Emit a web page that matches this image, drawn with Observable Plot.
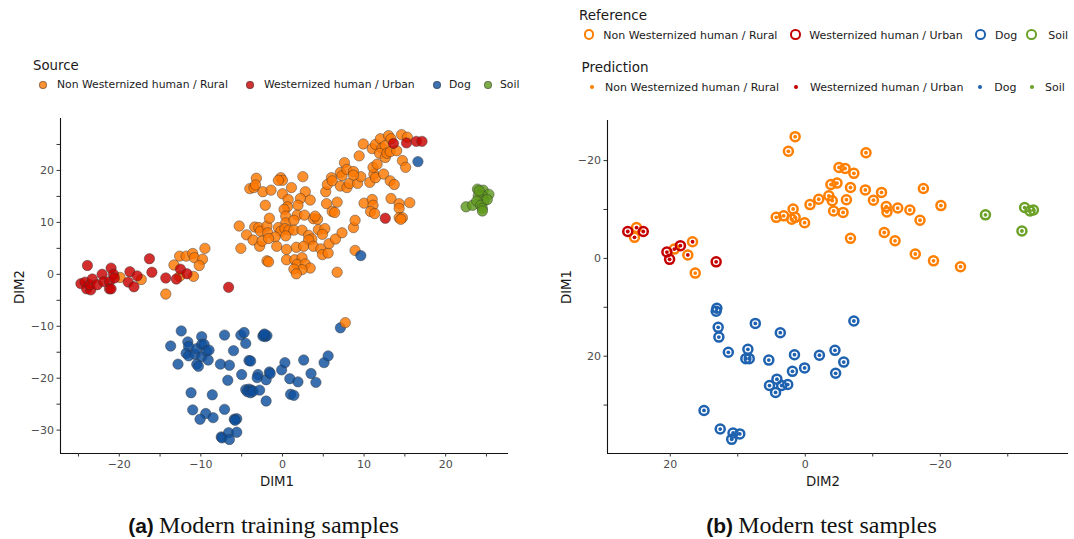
<!DOCTYPE html>
<html><head><meta charset="utf-8">
<script src="https://cdn.jsdelivr.net/npm/d3@7"></script>
<script src="https://cdn.jsdelivr.net/npm/@observablehq/plot@0.6"></script>
<style>
body{margin:0;background:#fff;font-family:"DejaVu Sans",sans-serif;}
#root{position:relative;width:1074px;height:539px;overflow:hidden;background:#fff;}
.abs{position:absolute;white-space:nowrap;line-height:1;}
.sym{position:absolute;border-radius:50%;box-sizing:border-box;}
</style></head><body><div id="root"></div>
<script>
// ---------- categories ----------
const categories = ["Non Westernized human / Rural", "Westernized human / Urban", "Dog", "Soil"];
const trainColors = ["#ff7800", "#c80000", "#0e4f9e", "#5f9a1c"];
const testColors = ["#ff7f00", "#c40000", "#1f62b0", "#6ba126"];

// ---------- (a) training samples : [DIM1, DIM2] ----------
const trainRural = [
[-19.9,-0.6],[-17.3,-1.0],[-14.3,-3.8],[-13.3,1.8],[-12.6,3.5],[-11.8,3.5],[-11.0,4.0],[-10.8,3.2],[-9.8,2.9],[-9.5,5.0],[-10.2,1.7],[-10.9,-0.4],[-12.6,-0.4],
[-5.3,9.3],[-5.1,5.0],[-4.4,7.6],[-4.0,16.5],[-3.6,6.6],[-3.4,9.1],[-3.5,16.7],[-3.2,18.5],[-3.3,17.2],[-2.9,9.0],[-2.7,8.3],[-2.8,5.4],[-2.5,6.4],[-2.4,15.9],[-2.1,13.3],[-1.9,9.3],[-1.6,10.8],[-1.8,8.0],[-1.4,16.2],[-1.9,2.6],[-1.7,2.4],
[-0.2,18.6],[0,18.1],[-0.5,18.1],[2.5,18.8],[1.1,16.7],[2.8,15.9],[0,15.5],[2.2,14.6],[0.7,14.4],[3.4,14.3],[0.6,13.0],[0.2,12.5],[1.9,13.3],[1.8,11.4],[2.7,11.4],[3.8,10.7],[4.3,10.6],[4.0,11.2],[0.4,11.2],[0.4,9.9],[1.4,10.4],[-0.5,9.0],[-0.2,8.3],[0.3,8.8],[0.8,8.5],[1.4,8.5],[2.4,8.5],[0.4,7.4],[-0.9,7.2],[-1.7,6.9],[3.2,7.5],[3.6,6.8],[4.4,8.6],[5.2,8.8],[4.9,7.7],[3.2,6.6],[-0.7,5.4],[0.5,4.8],[1.7,5.2],[2.6,5.4],[3.8,5.4],[4.7,4.9],[4.9,3.8],[5.6,4.1],[5.7,5.9],[6.5,6.8],[7.3,8.0],[8.7,9.0],[8.9,10.4],[0.5,2.8],[1.5,2.8],[2.4,3.2],[1.8,1.9],[2.8,2.0],[3.4,1.2],[2.4,0.9],[1.4,1.0],[1.7,0.1],[6.7,0.4],[8.9,4.6],
[5.3,15.9],[5.5,17.3],[6.0,18.6],[6.1,18.0],[7.1,19.6],[7.3,19.0],[7.1,17.0],[7.9,16.7],[8.2,17.5],[7.6,21.5],[7.9,20.2],[8.7,19.8],[9.2,17.5],[9.6,18.8],[9.4,22.8],[9.9,25.1],[10.7,17.7],[11.2,19.3],[11.4,18.6],[11.1,20.6],[11.6,21.2],[12.4,19.3],[13.2,18.0],[13.7,17.3],[11.0,24.2],[11.4,25.0],[12.0,26.1],[12.2,24.3],[12.6,24.8],[13.0,26.7],[13.3,26.1],[11.9,23.3],[12.6,22.5],[12.8,23.3],[13.2,23.6],[14.0,23.8],[14.6,26.9],[15.3,26.4],[14.7,21.9],[15.1,20.6],[10.0,13.7],[11.0,14.4],[11.1,13.3],[10.8,12.1],[11.3,11.7],[13.3,14.6],[14.3,13.6],[14.3,12.7],[15.6,13.8],[14.3,10.9],[14.7,10.9],[14.5,10.6],[6.7,13.9],[5.4,13.6],[6.1,12.1],[6.4,11.9],[8.7,19.1]
];
const trainUrban = [
[-23.9,1.7],[-24.7,-1.8],[-24.2,-1.5],[-24.0,-2.8],[-23.5,-3.0],[-23.6,-2.0],[-23.3,-0.9],[-22.7,-2.0],[-22.1,0],[-21.9,-1.4],[-21.2,-1.4],[-21.0,1.2],[-20.7,0],[-20.6,-0.7],[-21.2,-2.8],[-21.0,-2.8],[-18.7,0.5],[-18.9,-1.5],[-18.2,-2.4],[-17.8,-0.3],[-16.0,0.4],[-16.3,3.0],[-14.3,-0.7],[-13.0,-0.9],[-12.5,1.0],[-11.7,0.1],[-6.6,-2.5],[13.6,25.2],[15.2,25.3],[16.4,25.6],[17.1,25.6],[12.6,10.8]
];
const trainDog = [
[-12.4,-10.9],[-13.7,-13.8],[-12.8,-17.3],[-11.6,-13.0],[-11.5,-13.9],[-11.8,-15.2],[-11.5,-15.7],[-10.7,-15.4],[-10.5,-14.3],[-9.9,-12.0],[-9.9,-13.5],[-9.6,-13.5],[-9.9,-15.9],[-10.5,-17.3],[-10.3,-17.7],[-9.3,-14.8],[-9.0,-14.6],[-9.1,-16.5],[-11.2,-22.8],[-8.6,-23.2],[-11.0,-26.1],[-9.4,-26.8],[-10.1,-27.9],[-8.5,-27.6],[-7.1,-11.7],[-7.6,-17.3],[-6.5,-17.5],[-6.7,-20.4],[-6.0,-14.7],[-7.1,-26.0],[-5.9,-27.9],[-5.6,-27.8],[-5.8,-28.1],[-7.5,-31.3],[-7.4,-31.5],[-6.6,-30.5],[-6.5,-31.8],[-5.6,-30.4],[-5.1,-11.7],[-4.7,-11.2],[-4.5,-13.3],[-5.0,-19.3],[-4.1,-16.6],[-3.9,-16.7],[-4.5,-22.2],[-4.1,-22.1],[-3.8,-22.3],[-4.3,-22.6],[-3.9,-22.8],[-3.6,-22.5],[-2.8,-22.3],[-3.0,-19.3],[-3.1,-19.9],[-2.3,-11.7],[-2.1,-12.0],[-1.9,-11.8],[-2.4,-11.9],[-2.2,-11.5],[-2.0,-20.3],[-2.0,-24.4],[-1.6,-18.8],[-1.5,-19.1],[-0.1,-18.4],[0.3,-17.0],[0.9,-20.1],[1.9,-20.7],[1.0,-23.1],[1.4,-23.3],[2.6,-16.5],[3.5,-19.1],[4.1,-20.8],[5.1,-17.0],[5.6,-15.7],[7.1,-10.3],[9.6,3.6],[16.6,21.7]
];
const trainRuralLate = [[7.7,-9.3]];
const trainSoil = [
[22.5,13.0],[23.3,13.3],[23.9,16.4],[24.6,16.2],[25.3,15.4],[24.5,15.1],[24.0,15.1],[24.7,14.1],[23.8,14.1],[24.3,13.3],[24.5,12.7],[24.5,12.2],[25.1,14.4],[24.1,16.1]
];

// ---------- (b) test samples : [DIM2, DIM1, predicted category index] ----------
const testRural = [
[25.0,-6.3,1],[25.3,-4.3,1],[19.4,-1.9,1],[16.7,-3.4,1],[17.4,-0.7,1],[16.3,3.0,0],
[1.5,-24.9,0],[2.5,-21.9,0],[4.3,-8.4,0],[3.2,-8.7,0],[1.8,-10.1,0],[2.0,-8.0,0],[1.5,-8.4,0],[0.1,-7.3,0],[-0.7,-11.0,0],[-2.0,-12.1,0],
[-9.0,-21.6,0],[-5.0,-18.6,0],[-5.9,-18.4,0],[-7.2,-17.4,0],[-3.8,-15.1,0],[-4.7,-15.4,0],[-6.7,-14.5,0],[-8.9,-14.0,0],[-11.3,-13.5,0],[-17.5,-14.3,0],[-3.5,-12.8,0],[-4.0,-11.8,0],[-6.1,-12.0,0],[-10.1,-11.9,0],[-4.2,-9.7,0],[-5.6,-9.4,0],[-12.0,-10.6,0],[-12.1,-9.5,0],[-13.7,-10.3,0],[-15.5,-9.9,0],[-17.0,-7.8,0],[-20.1,-10.8,0],[-6.7,-4.1,0],[-11.7,-5.3,0],[-13.3,-3.6,0],[-16.3,-0.9,0],[-19.0,0.5,0],[-23.0,1.7,0]
];
const testUrban = [[26.3,-5.5,1],[24.0,-5.5,1],[20.5,-1.3,1],[20.1,0.2,1],[18.5,-2.6,1],[13.2,0.7,1]];
const testDog = [
[13.1,10.2,2],[13.2,10.8,2],[12.9,14.1,2],[12.8,16.1,2],[7.4,13.3,2],[3.7,15.2,2],[-7.2,12.8,2],[11.4,19.2,2],[8.5,18.6,2],[8.8,20.5,2],[8.3,20.5,2],[5.4,20.8,2],[1.6,19.7,2],[-2.1,19.8,2],[-4.4,18.8,2],[-5.7,21.2,2],[-4.5,23.5,2],[0.1,22.4,2],[1.9,23.1,2],[4.2,24.7,2],[5.3,26.0,2],[4.4,27.4,2],[3.5,26.0,2],[2.6,25.8,2],[15.0,31.1,2],[12.6,34.9,2],[10.7,35.7,2],[9.7,35.9,2],[10.9,37.0,2]
];
const testSoil = [[-26.7,-8.9,3],[-32.5,-10.4,3],[-33.3,-9.7,3],[-33.8,-9.9,3],[-32.1,-5.6,3]];

// ---------- tick values ----------
const aTicksX = d3.range(-25, 30, 5), aTicksY = d3.range(-30, 30, 5);
const bTicksX = d3.range(-30, 30, 10), bTicksY = d3.range(-20, 40, 10);
const aDomX = [-27.2, 27.7], aDomY = [-34.5, 30];
const bDomX = [29.3, -39.0], bDomY = [-28.2, 39.9];

const fmt = d3.format("d");
const root = document.getElementById("root");
function place(el, left, top){ el.style.position="absolute"; el.style.left=left+"px"; el.style.top=top+"px"; root.appendChild(el); }

const axisStyle = {fill:"#4d4d4d", stroke:"#333", fontSize:11, tickSize:3.5, tickPadding:3, label:null};

// ---------- panel (a) ----------
const dotOpts = {x:d=>d[0], y:d=>d[1], r:5.2, fillOpacity:0.82, stroke:"#333", strokeWidth:0.6, strokeOpacity:0.75};
const plotA = Plot.plot({
  width:540, height:400, marginLeft:60, marginRight:32, marginTop:18, marginBottom:47,
  style:{fontFamily:"DejaVu Sans", background:"white", overflow:"visible"},
  x:{domain:aDomX}, y:{domain:aDomY},
  marks:[
    Plot.dot(trainRural, {...dotOpts, fill:trainColors[0]}),
    Plot.dot(trainUrban, {...dotOpts, fill:trainColors[1]}),
    Plot.dot(trainDog, {...dotOpts, fill:trainColors[2]}),
    Plot.dot(trainRuralLate, {...dotOpts, fill:trainColors[0]}),
    Plot.dot(trainSoil, {...dotOpts, fill:trainColors[3]}),
    Plot.ruleX([aDomX[0]], {stroke:"#111", strokeWidth:1.1}),
    Plot.ruleY([aDomY[0]], {stroke:"#111", strokeWidth:1.1}),
    Plot.axisX(aTicksX, {...axisStyle, tickFormat:d => d % 10 === 0 ? fmt(d) : ""}),
    Plot.axisY(aTicksY, {...axisStyle, tickFormat:d => d % 10 === 0 ? fmt(d) : ""})
  ]
});
place(plotA, 0, 100);

// ---------- panel (b) ----------
const ringOpts = {x:d=>d[0], y:d=>d[1], r:4.5, strokeWidth:2.5, fill:"none"};
const testAll = [...testRural, ...testUrban, ...testDog, ...testSoil];
const plotB = Plot.plot({
  width:514, height:400, marginLeft:47, marginRight:6, marginTop:20, marginBottom:47,
  style:{fontFamily:"DejaVu Sans", background:"white", overflow:"visible"},
  x:{domain:bDomX}, y:{domain:bDomY, reverse:true},
  color:{domain:[0,1,2,3], range:testColors, type:"ordinal"},
  marks:[
    Plot.dot(testRural, {...ringOpts, stroke:testColors[0]}),
    Plot.dot(testUrban, {...ringOpts, stroke:testColors[1]}),
    Plot.dot(testDog, {...ringOpts, stroke:testColors[2]}),
    Plot.dot(testSoil, {...ringOpts, stroke:testColors[3]}),
    Plot.dot(testAll, {x:d=>d[0], y:d=>d[1], r:1.9, fill:d=>d[2], stroke:null}),
    Plot.ruleX([bDomX[0]], {stroke:"#111", strokeWidth:1.1}),
    Plot.ruleY([bDomY[1]], {stroke:"#111", strokeWidth:1.1}),
    Plot.axisX(bTicksX, {...axisStyle, tickFormat:d => d % 20 === 0 ? fmt(d) : ""}),
    Plot.axisY(bTicksY, {...axisStyle, tickFormat:d => d % 20 === 0 ? fmt(d) : ""})
  ]
});
place(plotB, 560, 100);

// ---------- text helpers ----------
function text(str, left, cy, size, opts={}){
  const d = document.createElement("div");
  d.className = "abs"; d.textContent = str;
  d.style.fontSize = size+"px"; d.style.color = opts.color || "#1a1a1a";
  d.style.fontFamily = opts.font || "'DejaVu Sans'";
  d.style.left = left+"px"; d.style.top = cy+"px";
  d.style.transform = opts.transform || "translateY(-50%)";
  root.appendChild(d); return d;
}
function sym(cx, cy, diam, fill, border){
  const s = document.createElement("div"); s.className = "sym";
  s.style.width = diam+"px"; s.style.height = diam+"px";
  s.style.left = (cx-diam/2)+"px"; s.style.top = (cy-diam/2)+"px";
  if (fill) s.style.background = fill;
  if (border) s.style.border = border;
  root.appendChild(s);
}

// axis titles
text("DIM1", 277, 482, 13.3, {transform:"translate(-50%,-50%)"});
text("DIM2", 20, 287, 13.3, {transform:"translate(-50%,-50%) rotate(-90deg)"});
text("DIM2", 823, 482, 13.3, {transform:"translate(-50%,-50%)"});
text("DIM1", 567, 287, 13.3, {transform:"translate(-50%,-50%) rotate(-90deg)"});

// legend (a)
text("Source", 33, 65.5, 13.3);
const legA = [[43,57],[250,264],[437,449],[488,500]];
categories.forEach((c,i)=>{
  sym(legA[i][0], 84.5, 8, d3.color(trainColors[i]).copy({opacity:0.8}).formatRgb(), "0.5px solid rgba(60,60,60,0.5)");
  text(c, legA[i][1], 84.5, 10.8);
});
// legend (b)
text("Reference", 579, 15.7, 13.5);
text("Prediction", 581.5, 68.3, 13.5);
const legRef = [[589,603.3],[795.7,809.3],[980.7,995],[1031.7,1048.3]];
const legPred = [[591.7,605],[796,810],[980,994.3],[1031.7,1045]];
categories.forEach((c,i)=>{
  sym(legRef[i][0], 34.7, 10.5, null, "2.4px solid "+testColors[i]);
  text(c, legRef[i][1], 34.7, 11);
  sym(legPred[i][0], 86.7, 3.8, testColors[i], null);
  text(c, legPred[i][1], 86.7, 11);
});

// captions
function caption(tag, str, cx){
  const d = document.createElement("div"); d.className = "abs";
  d.innerHTML = `<span style="font-family:'Liberation Sans';font-weight:bold;font-size:21px">${tag}</span> <span style="font-family:'Liberation Serif';font-size:24px">${str}</span>`;
  d.style.left = cx+"px"; d.style.top = "525px"; d.style.transform = "translate(-50%,-50%)"; d.style.color="#111";
  root.appendChild(d);
}
caption("(a)", "Modern training samples", 263.5);
caption("(b)", "Modern test samples", 821.5);
</script></body></html>
